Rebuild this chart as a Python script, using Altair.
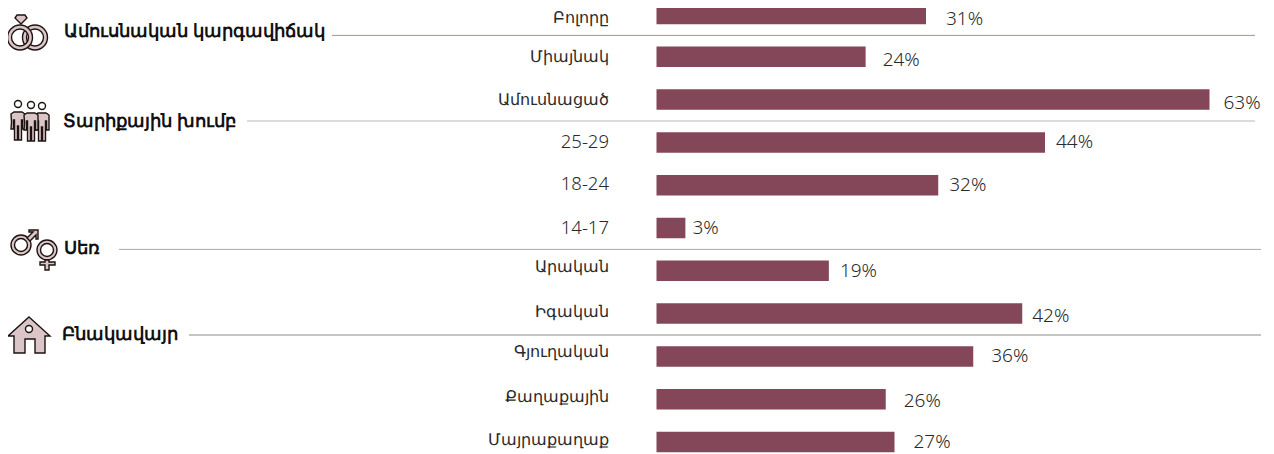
import altair as alt
import pandas as pd

# ---------- data ----------
categories = ["Բոլորը", "Միայնակ", "Ամուսնացած", "25-29", "18-24", "14-17",
              "Արական", "Իգական", "Գյուղական", "Քաղաքային", "Մայրաքաղաք"]
values = [30.8, 23.9, 63.2, 44.4, 32.2, 3.3, 19.7, 41.8, 36.2, 26.2, 27.2]
value_labels = ["31%", "24%", "63%", "44%", "32%", "3%", "19%", "42%", "36%", "26%", "27%"]
groups = ["Ամուսնական կարգավիճակ", "Տարիքային խումբ", "Սեռ", "Բնակավայր"]
group_rows = [0.5, 2.5, 5.5, 7.5]

# ---------- layout (offsets, not data) ----------
OX, OY = 8, 8
PX_PER_PCT, PX_PER_ROW = 8.75, 42.8
label_gap = [20, 17, 14, 11, 11, 7, 11, 10, 18, 18, 19]
label_dy = [3.5, 0, 0, 0, -1, 0, -4, -2, -4, -2, -2]
value_dy = [4.5, 3, 3, 0, 0, 0, 0, 2, 0, 2, 0]
rule_x0 = [332, 247, 119, 189]
rule_x1 = [1255, 1255, 1261, 1261]
group_x = [64, 63, 64, 62]
group_dy = [-3, 1, 0, 0]
rule_col = ["#9a9a92", "#b8b8b0", "#a8a8a8", "#8a8a82"]

df = pd.DataFrame({"cat": categories, "row": range(len(categories)), "val": values, "lab": value_labels})
df["lx"] = df["val"] + pd.Series(label_gap) / PX_PER_PCT
df["ly"] = df["row"] + pd.Series(value_dy) / PX_PER_ROW
df["cy"] = df["row"] + pd.Series(label_dy) / PX_PER_ROW
df["num"] = df["cat"].str[0].str.isdigit()
gf = pd.DataFrame({"g": groups, "row": group_rows,
                   "x0": [v - OX for v in rule_x0], "x1": [v - OX for v in rule_x1],
                   "gx": [v - OX for v in group_x], "col": rule_col})
gf["gy"] = gf["row"] + pd.Series(group_dy) / PX_PER_ROW

FONT = "Noto Sans"
yscale = alt.Scale(domain=[0, 10], range=[6, 434], nice=False, zero=False, padding=0)
xscale = alt.Scale(domain=[0, 69], range=[648.5, 648.5 + 69 * PX_PER_PCT], nice=False)
y = alt.Y("row:Q", axis=None, scale=yscale)
x = alt.X("val:Q", axis=None, scale=xscale)

bars = alt.Chart(df).mark_bar(size=20.5, color="#844759", orient="horizontal").encode(x=x, y=y)
cat_y = alt.Y("cy:Q", axis=None, scale=yscale)
cats = alt.Chart(df[~df.num]).mark_text(align="right", baseline="middle", font=FONT, fontSize=16.4,
                                        fontWeight=300, color="#2a2a2a", x=601).encode(y=cat_y, text="cat:N")
nums = alt.Chart(df[df.num]).mark_text(align="right", baseline="middle", font=FONT, fontSize=18.5,
                                       fontWeight=300, color="#2a2a2a", x=601).encode(y=cat_y, text="cat:N")
vals = alt.Chart(df).mark_text(align="left", baseline="middle", font=FONT, fontSize=19,
                               fontWeight=300, color="#2a2a2a").encode(
    x=alt.X("lx:Q", axis=None, scale=xscale), y=alt.Y("ly:Q", axis=None, scale=yscale), text="lab:N")
rules = alt.Chart(gf).mark_rule(strokeWidth=1).encode(
    x=alt.X("x0:Q", scale=None, axis=None), x2="x1:Q", y=y, color=alt.Color("col:N", scale=None))
heads = alt.Chart(gf).mark_text(align="left", baseline="middle", font=FONT, fontSize=17.5,
                                fontWeight="bold", color="#111111").encode(
    x=alt.X("gx:Q", scale=None, axis=None), y=alt.Y("gy:Q", axis=None, scale=yscale), text="g:N")


# ---------- icons (vector glyphs) ----------
def circ(cx, cy, r, rev=False):
    s = 0 if rev else 1
    return f"M{cx - r},{cy}A{r},{r} 0 1 {s} {cx + r},{cy}A{r},{r} 0 1 {s} {cx - r},{cy}Z"


def ring(cx, cy, r, t):
    return circ(cx, cy, r) + circ(cx, cy, r - t, True)


def person(dx, dy=0):
    p = [(-6.5, 10), (-7, 2), (-4, 0), (4, 0), (7, 2), (7, 17), (4.5, 17), (4.5, 8), (3.5, 8), (3.5, 28),
         (0.5, 28), (0.5, 14), (-0.5, 14), (-0.5, 28), (-3.5, 28), (-3.5, 8), (-4.5, 8), (-4.5, 17), (-7, 17)]
    return "M" + "L".join(f"{a + dx},{b + dy}" for a, b in p) + "Z"


PINK, INK = "#dcc5c9", "#1c1410"
ICONS = [
    (ring(35, 37.5, 12.5, 4), PINK),
    (ring(20, 37.5, 12.5, 4), PINK),
    ("M17,15L25,15L27,18L21,24L15,18Z", PINK),
    (person(42, 113), PINK),
    (person(18, 112), PINK),
    (person(31, 113), PINK),
    (circ(18, 104, 3.5), "white"),
    (circ(31, 105, 3.5), "white"),
    (circ(42, 106, 3.5), "white"),
    (ring(21, 245, 10, 3.5), PINK),
    ("M27,238L33,232L29,232L29,230L38,230L38,239L36,239L36,235L30,241Z", PINK),
    (ring(47, 250, 10, 3.5), PINK),
    ("M45,260L49,260L49,262L55,262L55,265L49,265L49,270L45,270L45,265L40,265L40,262L45,262Z", PINK),
    ("M29,317L50,336L45,336L45,353L35,353L35,339L25,339L25,353L14,353L14,336L8,336Z", PINK),
    (circ(29, 329, 3.5), "white"),
]
icon_layers = [
    alt.Chart(pd.DataFrame({"o": [0]})).mark_point(
        shape=path, size=4, filled=True, fill=fill, stroke=INK, strokeWidth=1.4, opacity=1
    ).encode(x=alt.value(-OX), y=alt.value(-OY))
    for path, fill in ICONS
]

chart = alt.layer(bars, rules, cats, nums, vals, heads, *icon_layers).properties(
    width=1256, height=446, padding=0,
    autosize=alt.AutoSizeParams(type="none"),
).configure_view(stroke=None)

chart.save("out.html", embed_options={"renderer": "svg", "actions": False})
